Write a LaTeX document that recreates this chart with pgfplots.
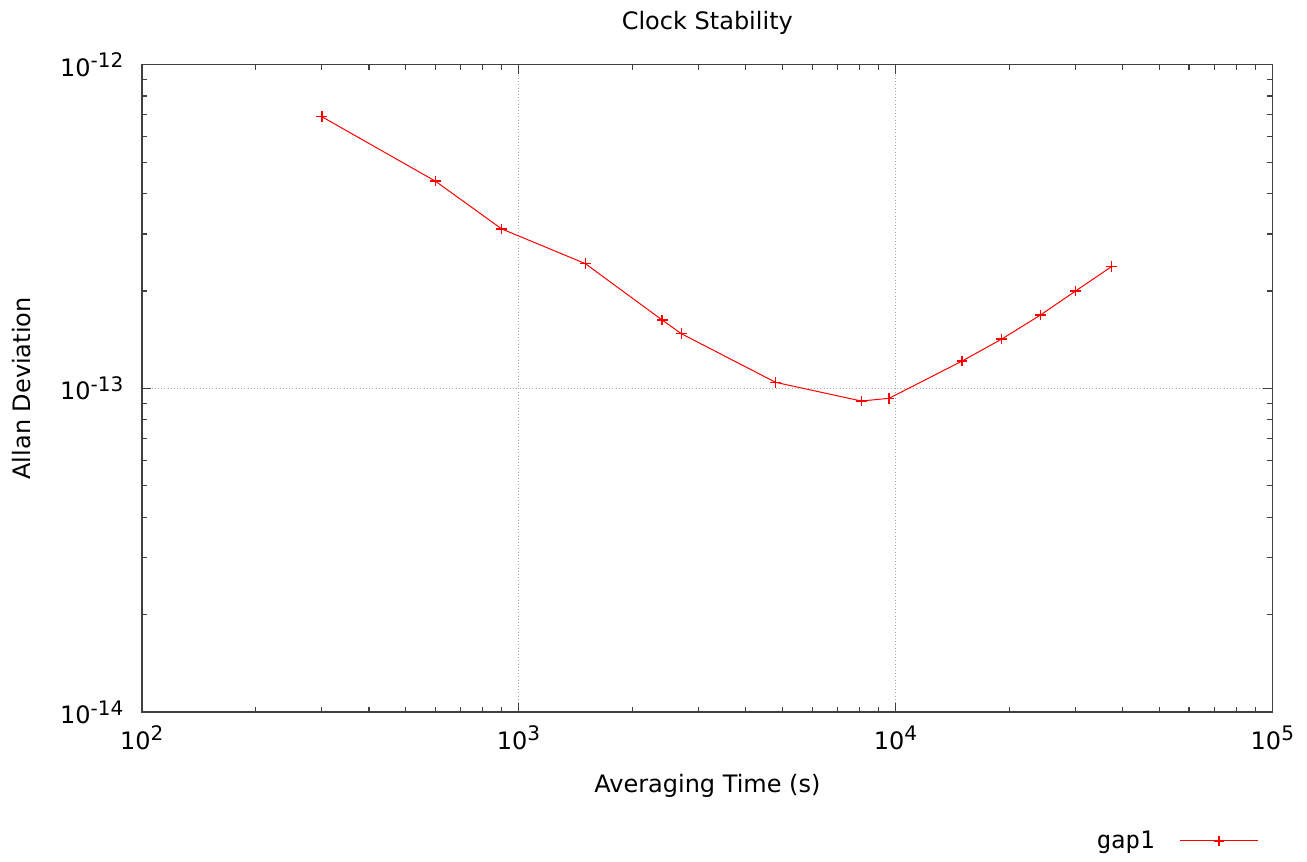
\documentclass[border=0pt]{standalone}
\usepackage{fontspec}
\setmainfont{DejaVu Sans}
\newfontfamily\monofont{DejaVu Sans Mono}
\usepackage{pgfplots}
\pgfplotsset{compat=1.18}
\definecolor{axgray}{HTML}{404040}
\begin{document}
\begin{tikzpicture}
\useasboundingbox (-106.5pt,-111.75pt) rectangle (873.75pt,534pt);
\begin{axis}[
  scale only axis,
  width=848pt, height=485.5pt,
  xmode=log, ymode=log,
  xmin=1e2, xmax=1e5, ymin=1e-14, ymax=1e-12,
  axis line style={axgray, line width=1pt},
  every tick/.style={axgray, line width=0.9pt},
  major tick length=7pt, minor tick length=4pt,
  tick align=inside,
  grid=major,
  major grid style={dotted, gray!70, line width=0.8pt},
  minor grid style={draw=none},
  font=\fontsize{18}{22}\selectfont,
  xticklabel={10\textsuperscript{\fontsize{15}{18}\selectfont\pgfmathparse{int(round(\tick/ln(10)))}\pgfmathresult}},
  yticklabel={10\textsuperscript{\fontsize{15}{18}\selectfont\pgfmathparse{int(round(\tick/ln(10)))}\pgfmathresult}},
  xticklabel style={yshift=-7pt},
  yticklabel style={xshift=-10pt},
  title={Clock Stability},
  title style={at={(axis description cs:0.5,1.053)}, anchor=center, font=\fontsize{18}{22}\selectfont},
  xlabel={Averaging Time (s)},
  xlabel style={at={(axis description cs:0.5,-0.1142)}, anchor=center},
  ylabel={Allan Deviation},
  ylabel style={at={(axis description cs:-0.1062,0.5)}, anchor=center},
  legend plot pos=right,
  legend style={draw=none, fill=none, at={(axis description cs:0.991,-0.199)}, anchor=east, font=\monofont\fontsize{18}{22}\selectfont},
  legend image code/.code={\draw[#1,mark repeat=2,mark phase=2] plot coordinates {(0pt,0pt) (29pt,0pt) (58pt,0pt)};},
]
\addplot[color=red, line width=0.75pt, mark=+, mark size=4pt, mark options={draw=red, solid, line width=1.1pt}] coordinates {
  (300,6.91e-13)
  (600,4.37e-13)
  (900,3.11e-13)
  (1500,2.43e-13)
  (2400,1.626e-13)
  (2700,1.475e-13)
  (4800,1.044e-13)
  (8100,9.14e-14)
  (9600,9.32e-14)
  (15000,1.215e-13)
  (19100,1.42e-13)
  (24200,1.685e-13)
  (30000,2.0e-13)
  (37400,2.38e-13)
};
\addlegendentry{gap1\rule{17pt}{0pt}}
\end{axis}
\end{tikzpicture}
\end{document}
